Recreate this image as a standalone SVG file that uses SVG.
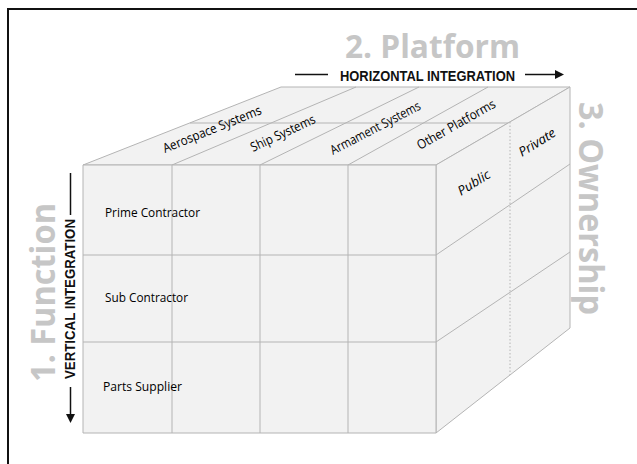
<svg xmlns="http://www.w3.org/2000/svg" width="637" height="464" viewBox="0 0 637 464">
  <style>
    .face { fill: #f2f2f2; stroke: #b4b4b4; stroke-width: 1; stroke-linejoin: round; }
    .grid { fill: none; stroke: #b4b4b4; stroke-width: 1; }
    .dotted { fill: none; stroke: #b4b4b4; stroke-width: 1; stroke-dasharray: 1.5 2; }
    .label { font-family: "Open Sans", "Liberation Sans", sans-serif; font-size: 13px; fill: #000; }
    .italic { font-style: italic; }
    .title { font-family: "Open Sans", "Liberation Sans", sans-serif; font-size: 34px; font-weight: 700; fill: #c6c6c6; }
    .axis { font-family: "Liberation Sans", "Open Sans", sans-serif; font-size: 14px; font-weight: 700; fill: #111; }
    .axisline { fill: none; stroke: #111; stroke-width: 1.5; }
  </style>
  <defs>
    <marker id="head" viewBox="0 0 10 10" refX="0" refY="5" markerWidth="10" markerHeight="9" markerUnits="userSpaceOnUse" orient="auto">
      <path d="M0,0 L10,5 L0,10 Z" fill="#111"/>
    </marker>
  </defs>

  <rect width="637" height="464" fill="#ffffff"/>
  <!-- outer frame (open to the right and bottom) -->
  <path d="M8,464 V9 H637" fill="none" stroke="#111" stroke-width="2"/>

  <!-- cube -->
  <g id="cube">
    <g id="top-face">
      <polygon class="face" points="83,165 281,87 570,87 436,165"/>
      <path class="grid" d="M172,165 L356,87 M260,165 L419,87 M348,165 L488,87 M190,123 H510"/>
    </g>
    <g id="right-face">
      <polygon class="face" points="436,165 570,87 570,328 436,433"/>
      <path class="grid" d="M436,255 L570,164 M436,342 L570,252"/>
      <path class="dotted" d="M510,122 V375"/>
    </g>
    <g id="front-face">
      <rect class="face" x="83" y="165" width="353" height="268"/>
      <path class="grid" d="M172,165 V433 M260,165 V433 M348,165 V433 M83,255 H436 M83,342 H436"/>
    </g>
  </g>

  <!-- platform columns -->
  <g id="platform-aerospace">
    <text class="label" transform="translate(165,153) rotate(-22)" textLength="105" lengthAdjust="spacingAndGlyphs">Aerospace Systems</text>
  </g>
  <g id="platform-ship">
    <text class="label" transform="translate(253,152) rotate(-25)" textLength="70" lengthAdjust="spacingAndGlyphs">Ship Systems</text>
  </g>
  <g id="platform-armament">
    <text class="label" transform="translate(333,155) rotate(-27.5)" textLength="100" lengthAdjust="spacingAndGlyphs">Armament Systems</text>
  </g>
  <g id="platform-other">
    <text class="label" transform="translate(420,150) rotate(-29.5)" textLength="88" lengthAdjust="spacingAndGlyphs">Other Platforms</text>
  </g>

  <!-- ownership slices -->
  <g id="ownership-public">
    <text class="label italic" transform="translate(461,196) rotate(-32)" textLength="36" lengthAdjust="spacingAndGlyphs">Public</text>
  </g>
  <g id="ownership-private">
    <text class="label italic" transform="translate(522,157) rotate(-32)" textLength="41" lengthAdjust="spacingAndGlyphs">Private</text>
  </g>

  <!-- function rows -->
  <g id="function-prime">
    <text class="label" x="105" y="217" textLength="95" lengthAdjust="spacingAndGlyphs">Prime Contractor</text>
  </g>
  <g id="function-sub">
    <text class="label" x="105" y="302" textLength="83" lengthAdjust="spacingAndGlyphs">Sub Contractor</text>
  </g>
  <g id="function-parts">
    <text class="label" x="103" y="391" textLength="79" lengthAdjust="spacingAndGlyphs">Parts Supplier</text>
  </g>

  <!-- dimension titles -->
  <g id="title-function">
    <text class="title" transform="translate(55,382) rotate(-90)" textLength="179" lengthAdjust="spacingAndGlyphs">1. Function</text>
  </g>
  <g id="title-platform">
    <text class="title" x="345" y="57.5" style="font-size:33px" textLength="175" lengthAdjust="spacingAndGlyphs">2. Platform</text>
  </g>
  <g id="title-ownership">
    <text class="title" transform="translate(579,102) rotate(90)" textLength="213" lengthAdjust="spacingAndGlyphs">3. Ownership</text>
  </g>

  <!-- integration axes -->
  <g id="axis-horizontal">
    <text class="axis" x="340" y="80.5" textLength="175" lengthAdjust="spacingAndGlyphs">HORIZONTAL INTEGRATION</text>
  </g>
  <g id="axis-vertical">
    <text class="axis" transform="translate(75,379) rotate(-90)" textLength="160" lengthAdjust="spacingAndGlyphs">VERTICAL INTEGRATION</text>
  </g>
  <g id="connectors">
    <path class="axisline" d="M295,74.5 H328"/>
    <path class="axisline" d="M525,74.5 H555" marker-end="url(#head)"/>
    <path class="axisline" d="M70.5,173 V215"/>
    <path class="axisline" d="M70.5,387 V414" marker-end="url(#head)"/>
  </g>
</svg>
